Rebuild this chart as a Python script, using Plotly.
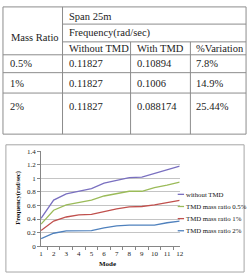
import plotly.graph_objects as go

# ---------------- data ----------------
modes = [str(i) for i in range(1, 13)]
without_tmd = [0.41, 0.68, 0.77, 0.81, 0.85, 0.93, 0.97, 1.01, 1.02, 1.075, 1.13, 1.18]
tmd_05 = [0.325, 0.53, 0.61, 0.65, 0.68, 0.74, 0.78, 0.81, 0.81, 0.865, 0.90, 0.945]
tmd_1 = [0.23, 0.37, 0.43, 0.46, 0.47, 0.515, 0.55, 0.58, 0.585, 0.61, 0.645, 0.675]
tmd_2 = [0.11, 0.19, 0.225, 0.225, 0.23, 0.27, 0.30, 0.31, 0.31, 0.31, 0.345, 0.37]
series_names = ["without TMD", "TMD mass ratio 0.5%", "TMD mass ratio 1%", "TMD mass ratio 2%"]
series_colors = ["#7a70c0", "#9bbb59", "#c0504d", "#4f81bd"]

table_header_left = "Mass Ratio"
table_span = "Span 25m"
table_freq = "Frequency(rad/sec)"
table_cols = ["Without TMD", "With TMD", "%Variation"]
mass_ratios = ["0.5%", "1%", "2%"]
freq_without = ["0.11827", "0.11827", "0.11827"]
freq_with = ["0.10894", "0.1006", "0.088174"]
variation = ["7.8%", "14.9%", "25.44%"]

W, H = 252, 277


def px(x):
    return x / W


def py(y):
    return 1 - y / H


fig = go.Figure()
for name, vals, col in zip(series_names, [without_tmd, tmd_05, tmd_1, tmd_2], series_colors):
    fig.add_trace(go.Scatter(x=modes, y=vals, mode="lines", name=name,
                             line=dict(color=col, width=1.3), showlegend=False))

shapes = []
annotations = []
grid = "#8c8c8c"


def hline(y, x0, x1, color=grid):
    shapes.append(dict(type="line", xref="paper", yref="paper", x0=px(x0), x1=px(x1),
                       y0=py(y), y1=py(y), line=dict(color=color, width=1)))


def vline(x, y0, y1, color=grid):
    shapes.append(dict(type="line", xref="paper", yref="paper", x0=px(x), x1=px(x),
                       y0=py(y0), y1=py(y1), line=dict(color=color, width=1)))


def text(t, x, y, size=10.5, family="Liberation Serif", color="#222", bold=False, angle=0,
         xanchor="left"):
    if bold:
        t = "<b>" + t + "</b>"
    annotations.append(dict(text=t, x=px(x), y=py(y), xref="paper", yref="paper",
                            showarrow=False, xanchor=xanchor, yanchor="middle",
                            textangle=angle,
                            font=dict(size=size, family=family, color=color)))


# ---- table ----
top, bot, left, right = 3, 134, 1, 250
c1, c2, c3 = 62, 131.7, 193
r1, r2, r3, r4, r5 = 20.7, 39, 52.3, 70.7, 91.7
hline(top, left, right)
hline(bot, left, right)
vline(left, top, bot)
vline(right, top, bot)
vline(c1, top, bot)
vline(c2, r2, bot)
vline(c3, r2, bot)
hline(r1, c1, right)
hline(r2, c1, right)
for r in (r3, r4, r5):
    hline(r, left, right)

text(table_header_left, 7, 35)
text(table_span, 67, 12.5)
text(table_freq, 67, 30)
for t, x in zip(table_cols, [67, 136.5, 197]):
    text(t, x, 45.7)
for i, ry in enumerate([61, 82, 106]):
    text(mass_ratios[i], 6.5, ry)
    text(freq_without[i], 67, ry)
    text(freq_with[i], 136.5, ry)
    text(variation[i], 197, ry)

# ---- chart box ----
shapes.append(dict(type="rect", xref="paper", yref="paper", x0=px(4), x1=px(248),
                   y0=py(276), y1=py(145), line=dict(color="#a6a6a6", width=1)))

# axis titles
text("Mode", 108, 268, size=7, family="Liberation Serif", color="#111", bold=True,
     xanchor="center")
annotations.append(dict(text="<b>Frequency(rad/sec)</b>", x=px(17), y=py(200),
                        xref="paper", yref="paper", showarrow=False, textangle=-90,
                        xanchor="center", yanchor="middle",
                        font=dict(size=6.5, family="Liberation Serif", color="#111")))

# legend (manual)
for i, (name, col) in enumerate(zip(series_names, series_colors)):
    ly = 196 + i * 12.5
    shapes.append(dict(type="line", xref="paper", yref="paper", x0=px(180), x1=px(186.5),
                       y0=py(ly), y1=py(ly), line=dict(color=col, width=1.3)))
    text(name, 186.5, ly, size=6.8, family="Liberation Serif", color="#111")

fig.update_layout(
    width=W, height=H,
    margin=dict(l=0, r=0, t=0, b=0),
    paper_bgcolor="white", plot_bgcolor="white",
    shapes=shapes, annotations=annotations,
    showlegend=False,
    xaxis=dict(domain=[px(40), px(182)], type="category", showline=True,
               linecolor="#868686", linewidth=1, ticks="outside", tickson="boundaries",
               ticklen=3, tickcolor="#868686", showgrid=False, zeroline=False,
               tickangle=0,
               tickfont=dict(size=7, family="Liberation Serif", color="#222")),
    yaxis=dict(domain=[py(249.3), py(151.7)], range=[0, 1.4], dtick=0.2, tick0=0,
               showline=True, linecolor="#868686", linewidth=1, ticks="outside",
               ticklen=3, tickcolor="#868686", showgrid=True, gridcolor="#c4c4c4",
               gridwidth=1, zeroline=False,
               tickfont=dict(size=7, family="Liberation Serif", color="#222")),
)

fig.write_html("out.html")
